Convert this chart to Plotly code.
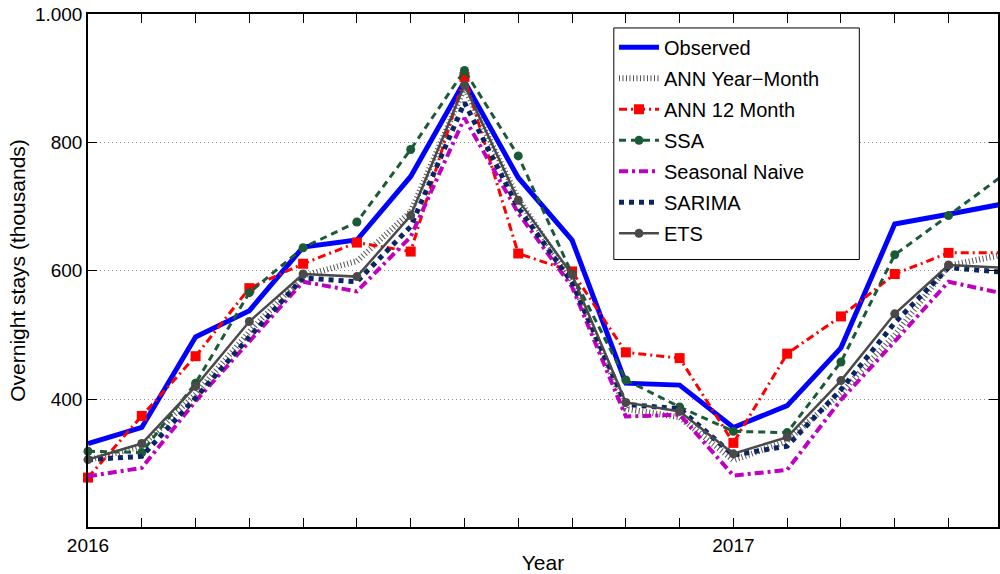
import plotly.graph_objects as go

months = ["2016-01", "2016-02", "2016-03", "2016-04", "2016-05", "2016-06",
          "2016-07", "2016-08", "2016-09", "2016-10", "2016-11", "2016-12",
          "2017-01", "2017-02", "2017-03", "2017-04", "2017-05", "2017-06"]

observed = [331, 356, 497, 538, 637, 648, 747, 895, 745, 648, 425, 422, 356, 390, 480, 673, 688, 704]
ann_year_month = [305, 327, 408, 505, 592, 615, 692, 885, 712, 585, 385, 372, 305, 335, 410, 500, 608, 625]
ann_12_month = [278, 374, 467, 573, 611, 644, 630, 902, 627, 599, 473, 464, 332, 471, 529, 595, 628, 628]
ssa = [319, 317, 425, 566, 636, 676, 789, 912, 779, 595, 430, 388, 350, 348, 458, 625, 686, 748]
seasonal_naive = [280, 293, 397, 490, 583, 568, 653, 838, 690, 575, 373, 376, 281, 290, 399, 490, 583, 565]
sarima = [306, 311, 402, 497, 589, 583, 669, 862, 698, 582, 392, 385, 313, 327, 415, 519, 605, 598]
ets = [306, 331, 420, 521, 595, 591, 686, 889, 710, 594, 395, 381, 315, 341, 429, 533, 609, 605]

x_ticktext = ["2016" if m == "2016-01" else "2017" if m == "2017-01" else "" for m in months]
y_tickvals = [400, 600, 800, 1000]
y_ticktext = ["400", "600", "800", "1.000"]

x = list(range(len(months)))
FONT = "Liberation Sans, Arial, sans-serif"

series = [
    dict(name="Observed", y=observed, color="#0000FF", width=5, dash="solid", mode="lines", marker=None),
    dict(name="ANN Year\u2212Month", y=ann_year_month, color="#555555", width=6, dash="1px,2.5px", mode="lines", marker=None),
    dict(name="ANN 12 Month", y=ann_12_month, color="#FF0000", width=3, dash="8px,4px,2px,4px", mode="lines+markers",
         marker=dict(symbol="square", size=10, color="#FF0000")),
    dict(name="SSA", y=ssa, color="#1B5A38", width=3, dash="7px,5px", mode="lines+markers",
         marker=dict(symbol="circle", size=9, color="#1B5A38")),
    dict(name="Seasonal Naive", y=seasonal_naive, color="#C000C0", width=4, dash="9px,4px,3px,4px", mode="lines", marker=None),
    dict(name="SARIMA", y=sarima, color="#0B2462", width=5, dash="5px,5px", mode="lines", marker=None),
    dict(name="ETS", y=ets, color="#4A4A4A", width=2.5, dash="solid", mode="lines+markers",
         marker=dict(symbol="circle", size=9, color="#4A4A4A")),
]

fig = go.Figure()
for s in series:
    kw = dict(x=x, y=s["y"], name=s["name"], mode=s["mode"], legendgroup=s["name"],
              line=dict(color=s["color"], width=s["width"], dash=s["dash"]), cliponaxis=False)
    if s["marker"] is not None:
        kw["marker"] = s["marker"]
    fig.add_trace(go.Scatter(**kw))

# legend frame (white box with black border) drawn behind the legend entries
fig.add_shape(type="rect", xref="paper", yref="paper",
              x0=0.5778, x1=0.8476, y0=0.5214, y1=0.9728,
              fillcolor="white", line=dict(color="black", width=1), layer="above")

fig.update_layout(
    width=1000, height=574,
    margin=dict(l=88, r=0, t=14, b=46),
    paper_bgcolor="white", plot_bgcolor="white",
    font=dict(family=FONT, size=19, color="black"),
    showlegend=True,
    legend=dict(x=0.578, y=0.973, xanchor="left", yanchor="top",
                bgcolor="rgba(0,0,0,0)", borderwidth=0,
                font=dict(family=FONT, size=20, color="black"),
                tracegroupgap=2, itemwidth=40),
    xaxis=dict(range=[0, 16.92], tickmode="array", tickvals=x, ticktext=x_ticktext,
               ticks="inside", ticklen=9, tickcolor="black", tickwidth=1,
               showline=True, linecolor="black", linewidth=1.5, mirror="ticks",
               showgrid=False, zeroline=False,
               tickfont=dict(size=19),
               title=dict(text="Year", font=dict(size=21), standoff=4)),
    yaxis=dict(range=[201, 1000], tickmode="array", tickvals=y_tickvals, ticktext=y_ticktext,
               ticks="inside", ticklen=9, tickcolor="black", tickwidth=1,
               showline=True, linecolor="black", linewidth=1.5, mirror="ticks",
               showgrid=True, gridcolor="#8a8a8a", griddash="1px,3px", gridwidth=1,
               zeroline=False, tickfont=dict(size=19),
               title=dict(text="Overnight stays (thousands)", font=dict(size=21), standoff=4)),
)

fig.write_html("out.html")
